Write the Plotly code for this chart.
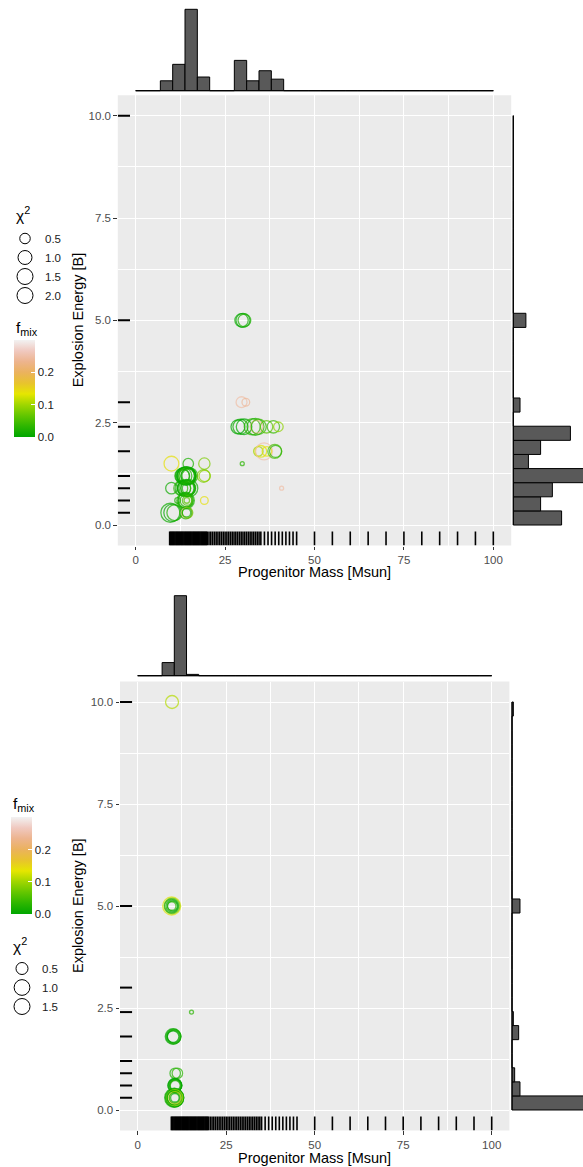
import numpy as np
import plotly.graph_objects as go

W, H = 583, 1167
FONT = "Liberation Sans, Arial, Helvetica, sans-serif"

# ---------------- data: upper panel (points) ----------------
top_mass = [9.7, 10.3, 10.9, 10.0, 10.0,
            11.7, 12.6, 13.0, 13.4, 13.2, 13.5, 13.6, 13.3,
            14.7, 13.9, 14.1, 14.3, 14.5, 14.7, 14.9, 14.2, 15.0,
            14.0, 14.3, 14.6, 14.9, 14.2, 15.0,
            14.0, 14.2, 14.4, 14.1, 14.3,
            14.3, 14.0, 14.5, 14.2,
            19.2, 19.0, 19.3, 19.2,
            29.6, 30.0, 30.4, 29.6, 30.8,
            28.6, 29.3, 30.3, 32.6, 33.5, 33.8, 34.4, 36.6, 38.5, 39.9,
            29.8,
            34.3, 35.0, 35.9, 36.7, 38.9, 39.1,
            40.8]
top_energy = [0.3, 0.3, 0.3, 1.5, 0.9,
              0.6, 0.9, 1.2, 1.2, 0.9, 0.9, 0.6, 1.2,
              1.5, 1.2, 1.2, 1.2, 1.2, 1.2, 1.2, 1.2, 1.2,
              0.9, 0.9, 0.9, 0.9, 0.9, 0.9,
              0.6, 0.6, 0.6, 0.6, 0.6,
              0.3, 0.3, 0.3, 0.3,
              1.5, 1.2, 1.2, 0.6,
              5.0, 5.0, 5.0, 3.0, 3.0,
              2.4, 2.4, 2.4, 2.4, 2.4, 2.4, 2.4, 2.4, 2.4, 2.4,
              1.5,
              1.8, 1.8, 1.8, 1.8, 1.8, 1.8,
              0.9]
top_chi2 = [2.1, 1.7, 1.3, 1.15, 0.63,
            0.15, 1.0, 1.1, 1.5, 1.3, 0.9, 1.2, 0.8,
            0.5, 1.9, 1.6, 1.4, 1.7, 1.2, 1.0, 2.0, 1.5,
            1.5, 1.3, 1.1, 0.9, 1.7, 1.6,
            1.2, 0.8, 0.4, 1.5, 0.15,
            0.55, 0.7, 0.5, 0.3,
            0.6, 0.8, 0.6, 0.25,
            0.9, 1.0, 0.8, 0.55, 0.25,
            1.0, 1.2, 1.3, 1.4, 1.6, 0.8, 1.2, 0.75, 0.75, 0.4,
            0.13,
            0.4, 0.65, 1.6, 0.4, 1.0, 0.7,
            0.13]
top_fmix = [0.01, 0.00, 0.02, 0.14, 0.01,
            0.02, 0.03, 0.01, 0.02, 0.01, 0.03, 0.02, 0.02,
            0.02, 0.00, 0.01, 0.02, 0.03, 0.01, 0.02, 0.00, 0.01,
            0.00, 0.02, 0.03, 0.02, 0.01, 0.01,
            0.01, 0.03, 0.05, 0.02, 0.06,
            0.24, 0.03, 0.07, 0.02,
            0.08, 0.08, 0.09, 0.14,
            0.01, 0.00, 0.02, 0.25, 0.24,
            0.00, 0.01, 0.00, 0.03, 0.02, 0.24, 0.04, 0.06, 0.04, 0.09,
            0.03,
            0.10, 0.13, 0.25, 0.14, 0.05, 0.03,
            0.25]

# ---------------- data: lower panel (points) ----------------
bot_mass = [9.7,
            9.6, 9.7, 9.6, 9.7, 9.8, 9.6,
            15.2,
            10.0, 10.1, 10.2, 10.1, 10.0,
            10.6, 11.2,
            10.5, 10.6, 10.7, 10.6, 10.5, 10.6,
            10.3, 10.4, 10.5, 10.4, 10.5, 10.4, 10.3, 10.5, 10.4, 10.5]
bot_energy = [10.0,
              5.0, 5.0, 5.0, 5.0, 5.0, 5.0,
              2.4,
              1.8, 1.8, 1.8, 1.8, 1.8,
              0.9, 0.9,
              0.6, 0.6, 0.6, 0.6, 0.6, 0.6,
              0.3, 0.3, 0.3, 0.3, 0.3, 0.3, 0.3, 0.3, 0.3, 0.3]
bot_chi2 = [0.61,
            1.4, 1.0, 0.75, 0.5, 0.3, 0.2,
            0.06,
            1.0, 0.85, 0.7, 0.55, 0.45,
            0.35, 0.35,
            0.75, 0.6, 0.5, 0.4, 0.7, 0.3,
            1.6, 1.5, 1.3, 1.15, 1.0, 0.85, 0.7, 0.5, 0.35, 0.2]
bot_fmix = [0.11,
            0.13, 0.08, 0.02, 0.01, 0.00, 0.03,
            0.03,
            0.01, 0.00, 0.02, 0.01, 0.00,
            0.02, 0.03,
            0.00, 0.01, 0.02, 0.01, 0.00, 0.02,
            0.02, 0.01, 0.00, 0.03, 0.12, 0.02, 0.01, 0.15, 0.02, 0.01]

# ---------------- model grid (rugs) ----------------
grid_mass = [9.5, 9.75, 10.0, 10.25, 10.5, 10.75, 11.0, 11.25, 11.5, 11.75,
             12.0, 12.25, 12.5, 12.75, 13.0, 13.25, 13.5, 13.75, 14.0, 14.25,
             14.5, 14.75, 15.0, 15.25, 15.5, 15.75, 16.0, 16.25, 16.5, 16.75,
             17.0, 17.25, 17.5, 17.75, 18.0, 18.25, 18.5, 18.75, 19.0, 19.25,
             19.5, 19.75, 20.0,
             20.5, 21.0, 21.5, 22.0, 22.5, 23.0, 23.5, 24.0, 24.5, 25.0,
             25.5, 26.0, 26.5, 27.0, 27.5, 28.0, 28.5, 29.0, 29.5, 30.0,
             30.5, 31.0, 31.5, 32.0, 32.5, 33.0, 33.5, 34.0, 34.5, 35.0,
             36, 37, 38, 39, 40, 41, 42, 43, 44, 45,
             50, 55, 60, 65, 70, 75, 80, 85, 90, 95, 100]
grid_energy = [0.3, 0.6, 0.9, 1.2, 1.8, 2.4, 3.0, 5.0, 10.0]

# ---------------- marginal histograms (29 bins) ----------------
mass_hist_range = [0, 100]
energy_hist_range = [0, 10]
top_mass_hist = [0, 0, 3.0, 8.0, 24.7, 4.15, 0, 0, 9.2, 3.0, 6.06, 3.5, 0, 0, 0,
                 0, 0, 0, 0, 0, 0, 0, 0, 0, 0, 0, 0, 0, 0]
top_energy_hist = [11.5, 6.5, 9.3, 18.0, 3.6, 6.5, 13.6, 0, 1.6, 0, 0, 0, 0, 0, 3.0,
                   0, 0, 0, 0, 0, 0, 0, 0, 0, 0, 0, 0, 0, 0]
bot_mass_hist = [0, 0, 10, 61, 1, 0, 0, 0, 0, 0, 0, 0, 0, 0, 0,
                 0, 0, 0, 0, 0, 0, 0, 0, 0, 0, 0, 0, 0, 0]
bot_energy_hist = [55, 6, 2, 0, 0, 5, 1, 0, 0, 0, 0, 0, 0, 0, 6,
                   0, 0, 0, 0, 0, 0, 0, 0, 0, 0, 0, 0, 0, 1]

# ---------------- ticks / legends ----------------
x_ticks = [0, 25, 50, 75, 100]
y_ticks = [0.0, 2.5, 5.0, 7.5, 10.0]
fmix_ticks = [0.0, 0.1, 0.2]
chi2_legend_top = [0.5, 1.0, 1.5, 2.0]
chi2_legend_bot = [0.5, 1.0, 1.5]
terrain = ["#00A600", "#2DB600", "#63C600", "#A0D600", "#E6E600",
           "#E8C32E", "#EBB25E", "#EDB48E", "#F0C9C0", "#F2F2F2"]
colorscale = [[i / (len(terrain) - 1), c] for i, c in enumerate(terrain)]


def dom_x(a, b):
    return [a / W, b / W]


def dom_y(top, bottom):
    return [1 - bottom / H, 1 - top / H]


def py(p):
    return 1 - p / H


def size_fn(lo, hi):
    def f(v):
        v = np.asarray(v, dtype=float)
        return 4 + 15 * np.sqrt(np.clip((v - lo) / (hi - lo), 0, 1))
    return f


def midpoints(vals):
    return [(a + b) / 2 for a, b in zip(vals[:-1], vals[1:])]


def bin_centers(rng, n):
    w = (rng[1] - rng[0]) / n
    return [rng[0] + w * (i + 0.5) for i in range(n)], w


panels = [
    dict(mass=top_mass, energy=top_energy, chi2=top_chi2, fmix=top_fmix,
         mh=top_mass_hist, eh=top_energy_hist, leg_vals=chi2_legend_top,
         ax=("", "2", "3"), cax="coloraxis", legend="legend",
         main_x=(117.8, 511.2), main_y=(95.2, 545.5),
         hx_dom=(4, 93), hx_base=90.7, hx_s=81.4 / 24.7,
         hy_dom=(511.5, 583), hy_base=513.3, hy_s=4.2,
         xtitle_y=571.7, ytitle_x=78),
    dict(mass=bot_mass, energy=bot_energy, chi2=bot_chi2, fmix=bot_fmix,
         mh=bot_mass_hist, eh=bot_energy_hist, leg_vals=chi2_legend_bot,
         ax=("4", "5", "6"), cax="coloraxis2", legend="legend2",
         main_x=(120.0, 509.4), main_y=(681.6, 1130.4),
         hx_dom=(588, 678), hx_base=675.7, hx_s=80 / 61,
         hy_dom=(510, 583), hy_base=512, hy_s=1.33,
         xtitle_y=1157.7, ytitle_x=78),
]

XR = [-5, 105]
YR = [-0.5, 10.5]
tickfont = dict(size=11.5, color="#4D4D4D", family=FONT)

fig = go.Figure()
layout = dict(width=W, height=H, margin=dict(l=0, r=0, t=0, b=0),
              paper_bgcolor="white", plot_bgcolor="rgba(0,0,0,0)",
              font=dict(family=FONT, color="black"), showlegend=True,
              hovermode=False, shapes=[], annotations=[])

for P in panels:
    a_main, a_hx, a_hy = P["ax"]
    xm, ym = "x" + a_main, "y" + a_main
    xhx, yhx = "x" + a_hx, "y" + a_hx
    xhy, yhy = "x" + a_hy, "y" + a_hy
    sf = size_fn(min(P["chi2"]), max(P["chi2"]))

    # panel background
    layout["shapes"].append(dict(type="rect", xref=xm + " domain", yref=ym + " domain",
                                 x0=0, x1=1, y0=0, y1=1, layer="below",
                                 fillcolor="#EBEBEB", line=dict(width=0)))

    # points
    fig.add_trace(go.Scatter(
        x=P["mass"], y=P["energy"], mode="markers", xaxis=xm, yaxis=ym,
        showlegend=False, hoverinfo="skip",
        marker=dict(symbol="circle-open", size=sf(P["chi2"]), color=P["fmix"],
                    coloraxis=P["cax"], line=dict(width=1.3))))

    # rugs
    yr_lo, yr_hi = YR[0], YR[0] + 0.031 * (YR[1] - YR[0])
    rx, ry = [], []
    for m in grid_mass:
        rx += [m, m, None]
        ry += [yr_lo, yr_hi, None]
    fig.add_trace(go.Scatter(x=rx, y=ry, mode="lines", xaxis=xm, yaxis=ym,
                             line=dict(color="black", width=1.6),
                             showlegend=False, hoverinfo="skip"))
    xr_lo, xr_hi = XR[0], XR[0] + 0.031 * (XR[1] - XR[0])
    rx, ry = [], []
    for e in grid_energy:
        rx += [xr_lo, xr_hi, None]
        ry += [e, e, None]
    fig.add_trace(go.Scatter(x=rx, y=ry, mode="lines", xaxis=xm, yaxis=ym,
                             line=dict(color="black", width=2),
                             showlegend=False, hoverinfo="skip"))

    # marginal histogram of mass (top)
    cx, wx = bin_centers(mass_hist_range, len(P["mh"]))
    fig.add_trace(go.Bar(x=cx, y=P["mh"], width=wx, xaxis=xhx, yaxis=yhx,
                         marker=dict(color="#595959", line=dict(color="black", width=1)),
                         showlegend=False, hoverinfo="skip"))
    fig.add_trace(go.Scatter(x=mass_hist_range, y=[0, 0], mode="lines",
                             xaxis=xhx, yaxis=yhx, line=dict(color="black", width=1),
                             showlegend=False, hoverinfo="skip"))
    # marginal histogram of energy (right)
    cy, wy = bin_centers(energy_hist_range, len(P["eh"]))
    fig.add_trace(go.Bar(y=cy, x=P["eh"], width=wy, orientation="h", xaxis=xhy, yaxis=yhy,
                         marker=dict(color="#595959", line=dict(color="black", width=1)),
                         showlegend=False, hoverinfo="skip"))
    fig.add_trace(go.Scatter(x=[0, 0], y=energy_hist_range, mode="lines",
                             xaxis=xhy, yaxis=yhy, line=dict(color="black", width=1),
                             showlegend=False, hoverinfo="skip"))

    # size legend entries
    for v in P["leg_vals"]:
        fig.add_trace(go.Scatter(x=[None], y=[None], mode="markers", name=f"{v:.1f}",
                                 legend=P["legend"], xaxis=xm, yaxis=ym, hoverinfo="skip",
                                 marker=dict(symbol="circle-open", color="black",
                                             size=float(sf(v)), line=dict(width=1))))

    # axes
    common = dict(ticks="outside", ticklen=3.5, tickwidth=1, tickcolor="#333333",
                  tickfont=tickfont, showgrid=True, gridcolor="white", gridwidth=1.1,
                  zeroline=False, showline=False, fixedrange=True)
    layout["xaxis" + a_main] = dict(
        domain=dom_x(*P["main_x"]), range=XR, anchor=ym,
        tickmode="array", tickvals=x_ticks, ticktext=[str(v) for v in x_ticks],
        minor=dict(tickmode="array", tickvals=midpoints(x_ticks), showgrid=True,
                   gridcolor="white", gridwidth=0.55, ticks=""), **common)
    layout["yaxis" + a_main] = dict(
        domain=dom_y(*P["main_y"]), range=YR, anchor=xm,
        tickmode="array", tickvals=y_ticks, ticktext=[f"{v:.1f}" for v in y_ticks],
        minor=dict(tickmode="array", tickvals=midpoints(y_ticks), showgrid=True,
                   gridcolor="white", gridwidth=0.55, ticks=""), **common)
    # top histogram axes
    t, b = P["hx_dom"]
    layout["xaxis" + a_hx] = dict(domain=dom_x(*P["main_x"]), range=XR, anchor=yhx,
                                  visible=False, fixedrange=True)
    layout["yaxis" + a_hx] = dict(domain=dom_y(t, b), anchor=xhx, visible=False, fixedrange=True,
                                  range=[-(b - P["hx_base"]) / P["hx_s"],
                                         (P["hx_base"] - t) / P["hx_s"]])
    # right histogram axes
    l, r = P["hy_dom"]
    layout["xaxis" + a_hy] = dict(domain=dom_x(l, r), anchor=yhy, visible=False, fixedrange=True,
                                  range=[-(P["hy_base"] - l) / P["hy_s"],
                                         (r - P["hy_base"]) / P["hy_s"]])
    layout["yaxis" + a_hy] = dict(domain=dom_y(*P["main_y"]), range=YR, anchor=xhy,
                                  visible=False, fixedrange=True)

    # axis titles
    mx = (P["main_x"][0] + P["main_x"][1]) / 2
    my = (P["main_y"][0] + P["main_y"][1]) / 2
    layout["annotations"].append(dict(text="Progenitor Mass [Msun]", xref="paper", yref="paper",
                                      x=mx / W, y=py(P["xtitle_y"]), xanchor="center",
                                      yanchor="middle", showarrow=False,
                                      font=dict(size=14.5, color="black", family=FONT)))
    layout["annotations"].append(dict(text="Explosion Energy [B]", xref="paper", yref="paper",
                                      x=P["ytitle_x"] / W, y=py(my), xanchor="center",
                                      yanchor="middle", textangle=-90, showarrow=False,
                                      font=dict(size=14.5, color="black", family=FONT)))


def cbar(x_left, y_center):
    return dict(x=x_left / W, xanchor="left", xref="paper", y=py(y_center), yanchor="middle",
                yref="paper", len=97, lenmode="pixels", thickness=21, thicknessmode="pixels",
                xpad=0, ypad=0, outlinewidth=0, ticks="inside", ticklen=4, tickcolor="white",
                tickwidth=1, tickmode="array", tickvals=fmix_ticks,
                ticktext=[f"{v:.1f}" for v in fmix_ticks],
                tickfont=dict(size=11.5, color="#1A1A1A", family=FONT))


layout["coloraxis"] = dict(colorscale=colorscale, cmin=0, cmax=0.3, colorbar=cbar(14, 388.3))
layout["coloraxis2"] = dict(colorscale=colorscale, cmin=0, cmax=0.3, colorbar=cbar(11, 865.8))

leg_common = dict(xanchor="left", yanchor="top", bgcolor="rgba(0,0,0,0)", borderwidth=0,
                  itemsizing="trace", tracegroupgap=0, traceorder="normal",
                  font=dict(size=11.5, color="#1A1A1A", family=FONT))
layout["legend"] = dict(x=5 / W, y=py(224), **leg_common)
layout["legend2"] = dict(x=2 / W, y=py(954), **leg_common)

for txt, x, y in [("χ<sup>2</sup>", 14, 214), ("χ<sup>2</sup>", 11, 945),
                  ("f<sub>mix</sub>", 14, 328), ("f<sub>mix</sub>", 11, 804)]:
    layout["annotations"].append(dict(text=txt, xref="paper", yref="paper", x=x / W, y=py(y),
                                      xanchor="left", yanchor="middle", showarrow=False,
                                      font=dict(size=15.5, color="black", family=FONT)))

fig.update_layout(**layout)
fig.write_html("out.html", config={"displayModeBar": False},
               post_script="document.body.style.margin='0px';document.body.style.padding='0px';"
                           "document.body.style.overflow='hidden';")
